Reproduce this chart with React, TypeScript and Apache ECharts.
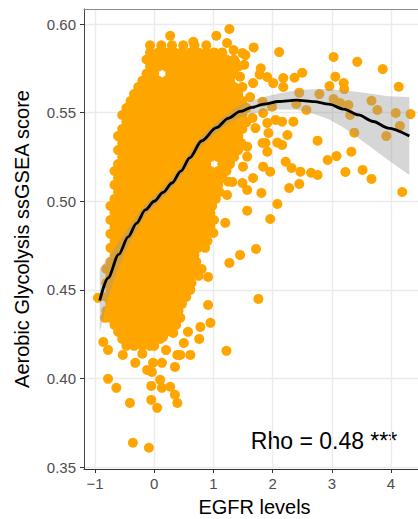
import { useEffect, useRef } from "react";
import * as echarts from "echarts";

const FONT = '"Liberation Sans", Arial, Helvetica, sans-serif';

const xTicks = [-1, 0, 1, 2, 3, 4];
const yTicks = [0.35, 0.4, 0.45, 0.5, 0.55, 0.6];

// Dense body of samples, one row per score level: [score, EGFR values...]
const coreRows: number[][] = [
  [0.588, -0.07, 0.12, 0.3, 0.49, 0.68, 0.88],
  [0.584, -0.07, 0.07, 0.2, 0.34, 0.47, 0.61, 0.74, 0.88, 1.01, 1.15],
  [0.58, -0.13, 0, 0.14, 0.27, 0.41, 0.54, 0.68, 0.81, 0.95, 1.08, 1.22, 1.35],
  [0.576, -0.07, 0.07, 0.2, 0.34, 0.47, 0.61, 0.74, 0.88, 1.01, 1.15, 1.28, 1.42],
  [0.572, -0.13, 0, 0.27, 0.41, 0.54, 0.68, 0.81, 0.95, 1.08, 1.22, 1.35],
  [0.568, -0.2, -0.07, 0.07, 0.2, 0.34, 0.47, 0.61, 0.74, 0.88, 1.01, 1.15, 1.28],
  [0.5645, -0.27, -0.13, 0, 0.14, 0.27, 0.41, 0.54, 0.68, 0.81, 0.95, 1.08, 1.22, 1.35, 1.49],
  [0.5605, -0.34, -0.2, -0.07, 0.07, 0.2, 0.34, 0.47, 0.61, 0.74, 0.88, 1.01, 1.15, 1.28, 1.42],
  [0.5566, -0.4, -0.27, -0.13, 0, 0.14, 0.27, 0.41, 0.54, 0.68, 0.81, 0.95, 1.08, 1.22, 1.35, 1.49],
  [0.5526, -0.47, -0.34, -0.2, -0.07, 0.07, 0.2, 0.34, 0.47, 0.61, 0.74, 0.88, 1.01, 1.15, 1.28, 1.42, 1.56],
  [0.5487, -0.54, -0.4, -0.27, -0.13, 0, 0.14, 0.27, 0.41, 0.54, 0.68, 0.81, 0.95, 1.08, 1.22, 1.35, 1.49],
  [0.5447, -0.47, -0.34, -0.2, -0.07, 0.07, 0.2, 0.34, 0.47, 0.61, 0.74, 0.88, 1.01, 1.15, 1.28, 1.42, 1.56],
  [0.5408, -0.54, -0.4, -0.27, -0.13, 0, 0.14, 0.27, 0.41, 0.54, 0.68, 0.81, 0.95, 1.08, 1.22, 1.35, 1.49],
  [0.5368, -0.61, -0.47, -0.34, -0.2, -0.07, 0.07, 0.2, 0.34, 0.47, 0.61, 0.74, 0.88, 1.01, 1.15, 1.28, 1.42],
  [0.5329, -0.54, -0.4, -0.27, -0.13, 0, 0.14, 0.27, 0.41, 0.54, 0.68, 0.81, 0.95, 1.08, 1.22, 1.35, 1.47],
  [0.5289, -0.61, -0.47, -0.34, -0.2, -0.07, 0.07, 0.2, 0.34, 0.47, 0.61, 0.74, 0.88, 1.01, 1.15, 1.28, 1.42],
  [0.525, -0.54, -0.4, -0.27, -0.13, 0, 0.14, 0.27, 0.41, 0.54, 0.68, 0.81, 0.95, 1.08, 1.22, 1.35],
  [0.521, -0.61, -0.47, -0.34, -0.2, -0.07, 0.07, 0.2, 0.34, 0.47, 0.61, 0.74, 0.88, 1.15, 1.28],
  [0.5171, -0.67, -0.54, -0.4, -0.27, -0.13, 0, 0.14, 0.27, 0.41, 0.54, 0.68, 0.81, 0.95, 1.08, 1.22],
  [0.5131, -0.61, -0.47, -0.34, -0.2, -0.07, 0.07, 0.2, 0.34, 0.47, 0.61, 0.74, 0.88, 1.01, 1.15],
  [0.5092, -0.67, -0.54, -0.4, -0.27, -0.13, 0, 0.14, 0.27, 0.41, 0.54, 0.68, 0.81, 0.95, 1.08],
  [0.5052, -0.61, -0.47, -0.34, -0.2, -0.07, 0.07, 0.2, 0.34, 0.47, 0.61, 0.74, 0.88, 1.01, 1.1],
  [0.5013, -0.67, -0.54, -0.4, -0.27, -0.13, 0, 0.14, 0.27, 0.41, 0.54, 0.68, 0.81, 0.95, 1.04],
  [0.4973, -0.74, -0.61, -0.47, -0.34, -0.2, -0.07, 0.07, 0.2, 0.34, 0.47, 0.61, 0.74, 0.88, 0.98],
  [0.4934, -0.67, -0.54, -0.4, -0.27, -0.13, 0, 0.14, 0.27, 0.41, 0.54, 0.68, 0.81, 0.95],
  [0.4894, -0.74, -0.61, -0.47, -0.34, -0.2, -0.07, 0.07, 0.2, 0.34, 0.47, 0.61, 0.74, 0.88, 1.01],
  [0.4855, -0.67, -0.54, -0.4, -0.27, -0.13, 0, 0.14, 0.27, 0.41, 0.54, 0.68, 0.81, 0.95],
  [0.4816, -0.74, -0.61, -0.47, -0.34, -0.2, -0.07, 0.07, 0.2, 0.34, 0.47, 0.61, 0.74, 0.86],
  [0.4776, -0.67, -0.54, -0.4, -0.27, -0.13, 0, 0.14, 0.27, 0.41, 0.54, 0.68, 0.81, 0.9],
  [0.4737, -0.74, -0.61, -0.47, -0.34, -0.2, -0.07, 0.07, 0.2, 0.34, 0.47, 0.61, 0.74, 0.86],
  [0.4697, -0.67, -0.54, -0.4, -0.27, -0.13, 0, 0.14, 0.27, 0.41, 0.54, 0.68],
  [0.4658, -0.74, -0.61, -0.47, -0.34, -0.2, -0.07, 0.07, 0.2, 0.34, 0.47, 0.61, 0.71],
  [0.4618, -0.81, -0.67, -0.54, -0.4, -0.27, -0.13, 0, 0.14, 0.27, 0.41, 0.54, 0.68, 0.8],
  [0.4579, -0.74, -0.61, -0.47, -0.34, -0.2, -0.07, 0.07, 0.2, 0.34, 0.47, 0.61, 0.75],
  [0.4539, -0.81, -0.67, -0.54, -0.4, -0.27, -0.13, 0, 0.14, 0.27, 0.41, 0.54, 0.63],
  [0.45, -0.74, -0.61, -0.47, -0.34, -0.2, -0.07, 0.07, 0.2, 0.34, 0.47, 0.61],
  [0.446, -0.81, -0.67, -0.54, -0.4, -0.27, -0.13, 0, 0.14, 0.27, 0.41, 0.54],
  [0.4421, -0.74, -0.61, -0.47, -0.34, -0.2, -0.07, 0.07, 0.2, 0.34, 0.47],
  [0.4381, -0.81, -0.67, -0.54, -0.4, -0.27, -0.13, 0, 0.14, 0.27, 0.41],
  [0.4342, -0.74, -0.61, -0.47, -0.34, -0.2, -0.07, 0.07, 0.2, 0.34, 0.44],
  [0.4302, -0.67, -0.54, -0.4, -0.27, -0.13, 0, 0.14, 0.27, 0.37],
  [0.4263, -0.61, -0.47, -0.34, -0.2, -0.07, 0.07, 0.2],
  [0.4223, -0.54, -0.4, -0.27, -0.13, 0, 0.1],
  [0.4184, -0.47, -0.34, -0.2, -0.07, 0],
];

// Scattered samples around the body: [EGFR, score]
const outerPoints: number[][] = [
  [0.27, 0.5934], [1.05, 0.5934], [1.27, 0.5972], [1.23, 0.5893], [0.66, 0.59],
  [1.34, 0.5853], [1.54, 0.5825], [1.49, 0.5836], [1.68, 0.5868], [1.52, 0.577],
  [1.37, 0.5786], [1.8, 0.575], [1.78, 0.5715], [1.45, 0.5703], [1.91, 0.5701],
  [2.11, 0.5842], [3.03, 0.5814], [3.43, 0.5787], [3.86, 0.5746], [4.13, 0.5646],
  [4.33, 0.5492], [4.08, 0.5498], [4.15, 0.5425], [3.92, 0.5368], [3.67, 0.5567],
  [3.77, 0.5515], [3.38, 0.5387], [3.33, 0.528], [3.52, 0.5177], [3.67, 0.5126],
  [4.19, 0.5052], [3.23, 0.5165], [3.08, 0.5255], [2.93, 0.5233], [2.76, 0.5342],
  [3.06, 0.5703], [2.96, 0.565], [3.2, 0.5667], [3.21, 0.5633], [3.03, 0.5577],
  [3.14, 0.5554], [3.28, 0.5543], [3.31, 0.5487], [2.79, 0.5605], [2.45, 0.5613],
  [2.5, 0.5725], [2.37, 0.5697], [2.57, 0.5515], [2.4, 0.5549], [2.18, 0.5695],
  [2.18, 0.5645], [2.01, 0.5667], [1.67, 0.5667], [1.62, 0.5588], [1.83, 0.5562],
  [1.99, 0.5534], [1.84, 0.5498], [1.66, 0.547], [1.71, 0.5413], [1.91, 0.5442],
  [2.05, 0.5459], [2.16, 0.5449], [2.35, 0.5449], [2.25, 0.5374], [1.93, 0.5385],
  [1.88, 0.5329], [2.08, 0.5331], [2.16, 0.5318], [1.91, 0.528], [1.57, 0.5308],
  [1.57, 0.5252], [1.5, 0.5195], [1.84, 0.5195], [1.96, 0.5167], [2.22, 0.5223],
  [2.32, 0.5188], [2.47, 0.5167], [2.65, 0.5161], [2.76, 0.5148], [1.67, 0.5131],
  [1.57, 0.5064], [1.81, 0.5047], [2.28, 0.5075], [2.45, 0.5098], [2.08, 0.4985],
  [1.57, 0.4947], [1.96, 0.49], [1.32, 0.5109], [1.23, 0.5036], [1.25, 0.511],
  [1.49, 0.5103], [1.83, 0.5329],
  [-0.95, 0.4455], [-0.83, 0.4342], [-0.86, 0.4206], [-0.78, 0.4161], [-0.78, 0.3998],
  [-0.64, 0.3947], [-0.53, 0.4133], [-0.41, 0.3862], [-0.36, 0.3637], [-0.09, 0.3609],
  [-0.32, 0.4088], [-0.02, 0.4088], [-0.04, 0.4037], [0.13, 0.4088], [-0.05, 0.3958],
  [0.13, 0.3947], [0.27, 0.3953], [0.35, 0.3908], [-0.05, 0.3879], [0.05, 0.3834],
  [0.39, 0.3862], [0.39, 0.4133], [0.61, 0.4133], [0.35, 0.4065], [0.76, 0.4223],
  [0.78, 0.4291], [0.95, 0.4314], [0.91, 0.4415], [0.91, 0.4573], [1.27, 0.4652],
  [1.45, 0.4697], [1.2, 0.4878], [1.22, 0.4156], [1.72, 0.4731], [1.76, 0.4449],
  [-0.12, 0.4048], [0.1, 0.3992], [0.15, 0.4235], [0.32, 0.4257], [0.57, 0.4263],
  [0.44, 0.4133], [1.0, 0.4821], [-0.2, 0.414], [0.2, 0.416], [0.5, 0.42],
];

// Loess fit with its 95% confidence band
const fitX = [-0.92, -0.78, -0.6, -0.44, -0.3, -0.15, 0, 0.15, 0.3, 0.45, 0.6, 0.8, 1.05, 1.25, 1.45, 1.65, 1.85, 2.1, 2.4, 2.7, 2.95, 3.2, 3.45, 3.7, 3.95, 4.31];
const fitY = [0.444, 0.4567, 0.47, 0.4799, 0.4875, 0.4951, 0.5, 0.505, 0.5103, 0.517, 0.5245, 0.534, 0.5415, 0.5468, 0.5507, 0.553, 0.5548, 0.5563, 0.5571, 0.5562, 0.5548, 0.552, 0.5487, 0.545, 0.5413, 0.5368];
const fitLow = [0.426, 0.4457, 0.463, 0.4749, 0.4835, 0.4921, 0.497, 0.502, 0.5073, 0.514, 0.5215, 0.531, 0.5385, 0.5438, 0.5472, 0.5492, 0.5508, 0.5518, 0.5516, 0.5492, 0.5463, 0.5415, 0.5357, 0.5295, 0.5233, 0.5148];
const fitHigh = [0.462, 0.4677, 0.477, 0.4849, 0.4915, 0.4981, 0.503, 0.508, 0.5133, 0.52, 0.5275, 0.537, 0.5445, 0.5498, 0.5542, 0.5568, 0.5588, 0.5608, 0.5626, 0.5632, 0.5633, 0.5625, 0.5617, 0.5605, 0.5593, 0.5588];

const rhoLabel = "Rho = 0.48 ***";

export default function App() {
  const ref = useRef<HTMLDivElement>(null);

  useEffect(() => {
    if (!ref.current) return;
    const chart = echarts.init(ref.current, undefined, { renderer: "svg" });

    const samples: number[][] = [];
    coreRows.forEach(([score, ...xs]) => xs.forEach((x) => samples.push([x, score])));
    outerPoints.forEach((p) => samples.push(p));

    const fitLine = fitX.map((x, i) => [x, fitY[i]]);
    const bandRows = fitX.map((x, i) => [x, fitLow[i], fitHigh[i]]);

    const tickLabel = { color: "#4d4d4d", fontSize: 15, fontFamily: FONT };
    const nameStyle = { color: "#000", fontSize: 20, fontFamily: FONT };

    chart.setOption({
      animation: false,
      grid: { left: 84, top: 9, width: 341, height: 460, containLabel: false, outerBoundsMode: "none" },
      xAxis: [
        {
          type: "value",
          min: -1.186,
          max: 4.574,
          name: "EGFR levels",
          nameLocation: "middle",
          nameGap: 28,
          nameTextStyle: nameStyle,
          axisLine: { show: true, onZero: false, lineStyle: { color: "#333", width: 1 } },
          axisTick: { show: true, length: 4, customValues: xTicks, lineStyle: { color: "#333" } },
          axisLabel: {
            ...tickLabel,
            margin: 7,
            customValues: xTicks,
            formatter: (v: number) => (v < 0 ? "\u2212" + Math.abs(v) : String(v)),
          },
          splitLine: { show: true, lineStyle: { color: "#ebebeb", width: 1.4 } },
        },
        {
          type: "value",
          position: "top",
          min: -1.186,
          max: 4.574,
          axisLine: { show: true, onZero: false, lineStyle: { color: "#8c8c8c", width: 1 } },
          axisTick: { show: false },
          axisLabel: { show: false },
          splitLine: { show: false },
        },
      ],
      yAxis: {
        type: "value",
        min: 0.3489,
        max: 0.6085,
        name: "Aerobic Glycolysis ssGSEA score",
        nameLocation: "middle",
        nameGap: 52,
        nameTextStyle: nameStyle,
        axisLine: { show: true, onZero: false, lineStyle: { color: "#444", width: 1 } },
        axisTick: { show: true, length: 4, customValues: yTicks, lineStyle: { color: "#333" } },
        axisLabel: {
          ...tickLabel,
          margin: 8,
          customValues: yTicks,
          formatter: (v: number) => v.toFixed(2),
        },
        splitLine: { show: true, lineStyle: { color: "#ebebeb", width: 1.4 } },
      },
      series: [
        {
          type: "scatter",
          data: samples,
          symbol: "circle",
          symbolSize: 10,
          itemStyle: { color: "#FFA500", opacity: 1 },
          z: 2,
          silent: true,
        },
        {
          type: "custom",
          data: bandRows,
          encode: { x: 0, y: [1, 2] },
          z: 3,
          silent: true,
          renderItem: (params: any, api: any) => {
            if (params.dataIndex !== 0) return null;
            const upper = bandRows.map((r) => api.coord([r[0], r[2]]));
            const lower = bandRows.map((r) => api.coord([r[0], r[1]])).reverse();
            return {
              type: "polygon",
              shape: { points: upper.concat(lower) },
              style: { fill: "#999999", opacity: 0.4 },
            };
          },
        },
        {
          type: "line",
          data: fitLine,
          showSymbol: false,
          smooth: 0.3,
          smoothMonotone: "x",
          lineStyle: { color: "#000", width: 2.8 },
          z: 4,
          silent: true,
        },
      ],
      graphic: [
        {
          type: "text",
          x: 324,
          y: 441,
          style: {
            text: rhoLabel,
            fill: "#000",
            fontSize: 23,
            fontFamily: FONT,
            textAlign: "center",
            textVerticalAlign: "middle",
          },
        },
      ],
    });

    return () => chart.dispose();
  }, []);

  return (
    <div
      ref={ref}
      style={{ position: "absolute", left: 0, top: 0, width: 418, height: 519 }}
    />
  );
}
